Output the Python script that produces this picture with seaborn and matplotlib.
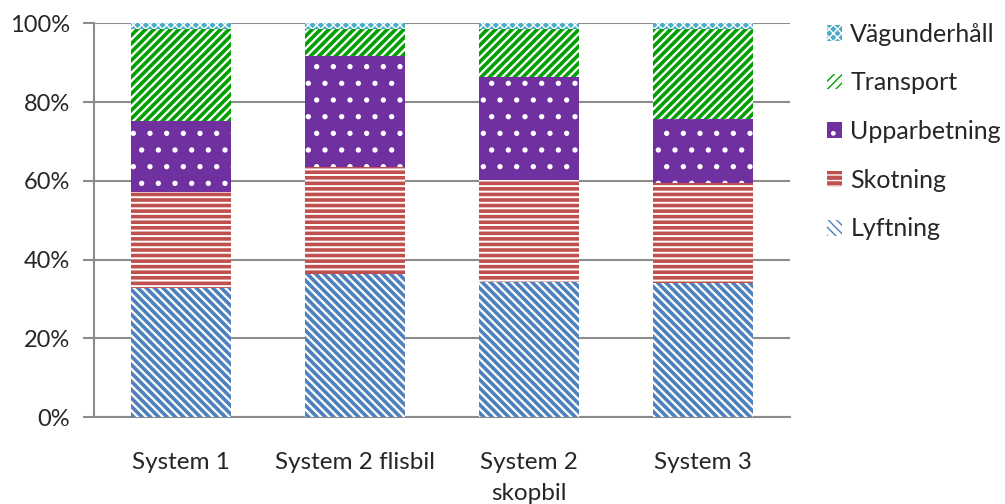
import matplotlib
matplotlib.use("Agg")
import matplotlib.pyplot as plt
from matplotlib.patches import Patch
from matplotlib.ticker import PercentFormatter
import numpy as np
import pandas as pd
import seaborn as sns

# Cost shares (%) per harvesting system
systems = ["System 1", "System 2 flisbil", "System 2\nskopbil", "System 3"]
lyftning = [32.7, 36.3, 34.3, 34.0]
skotning = [24.5, 27.3, 25.8, 25.4]
upparbetning = [17.9, 28.2, 26.2, 16.4]
transport = [23.4, 6.7, 12.2, 22.7]
vagunderhall = [1.5, 1.5, 1.5, 1.5]

components = ["Lyftning", "Skotning", "Upparbetning", "Transport", "Vägunderhåll"]
values = [lyftning, skotning, upparbetning, transport, vagunderhall]

# face colour, hatch colour, hatch pattern, hatch line width
styles = {
    "Lyftning": ("white", "#4F81BD", "\\\\\\\\", 2.6),
    "Skotning": ("#C0504D", "white", "---", 1.4),
    "Upparbetning": ("#7030A0", "white", ".", 1.4),
    "Transport": ("white", "#00A000", "////", 2.6),
    "Vägunderhåll": ("#4BACC6", "white", "xxxx", 1.0),
}

df = pd.DataFrame({"system": systems})
for name, vals in zip(components, values):
    df[name] = vals

sns.set_style("white")
plt.rcParams["font.family"] = ["Lato", "DejaVu Sans"]


def apply_hatch_width(patches, lw):
    for p in patches:
        if hasattr(p, "set_hatch_linewidth"):
            p.set_hatch_linewidth(lw)


fig = plt.figure(figsize=(10.05, 5.04), dpi=100)
ax = fig.add_axes([0.0935, 0.172, 0.6925, 0.782])

bottom = np.zeros(len(systems))
for name in components:
    face, hcol, hatch, hlw = styles[name]
    n_before = len(ax.patches)
    with plt.rc_context({"hatch.linewidth": hlw}):
        sns.barplot(data=df, x="system", y=name, bottom=bottom, color=face,
                    width=0.57, edgecolor=hcol, linewidth=0, hatch=hatch,
                    saturation=1, ax=ax, zorder=3)
    apply_hatch_width(ax.patches[n_before:], hlw)
    bottom = bottom + df[name].to_numpy()

ax.set_ylim(0, 100)
ax.set_yticks(np.arange(0, 101, 20))
ax.yaxis.set_major_formatter(PercentFormatter(decimals=0))
ax.set_xlabel("")
ax.set_ylabel("")
ax.grid(axis="y", color="#8C8C8C", linewidth=1.5, zorder=0)
ax.set_axisbelow(True)
for side in ["top", "right"]:
    ax.spines[side].set_visible(False)
for side in ["left", "bottom"]:
    ax.spines[side].set_color("#8C8C8C")
    ax.spines[side].set_linewidth(1.5)
ax.tick_params(axis="y", length=8, width=1.5, color="#8C8C8C",
               labelsize=17, pad=9, left=True)
ax.tick_params(axis="x", length=0, labelsize=17.5, pad=25)
for lbl in ax.get_xticklabels():
    lbl.set_linespacing(1.6)

handles = []
for name in reversed(components):
    face, hcol, hatch, hlw = styles[name]
    h = Patch(facecolor=face, edgecolor=hcol, linewidth=0, hatch=hatch, label=name)
    apply_hatch_width([h], hlw)
    handles.append(h)
leg = fig.legend(handles=handles, loc="upper left", bbox_to_anchor=(0.80, 1.0),
                 frameon=False, fontsize=18, handlelength=0.6, handleheight=0.6,
                 handletextpad=0.35, labelspacing=1.03)

fig.savefig("out.png", dpi=100)
